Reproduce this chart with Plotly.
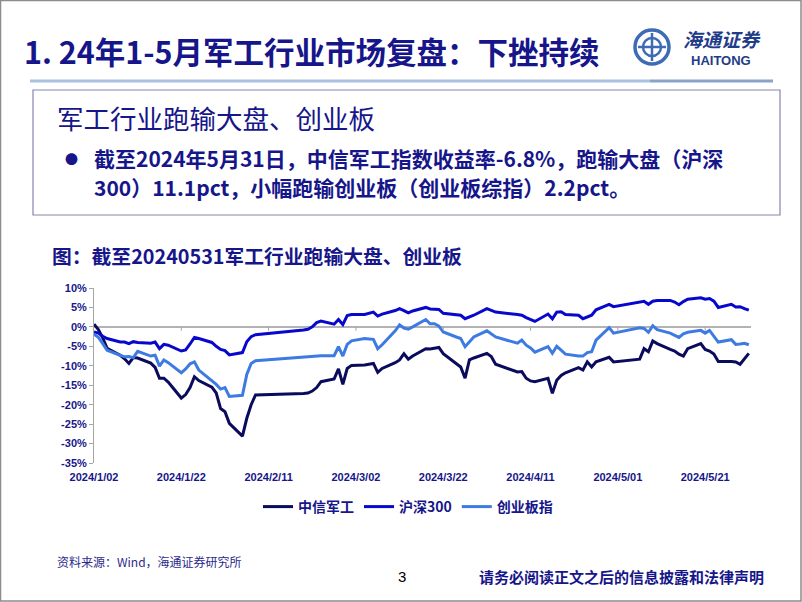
import plotly.graph_objects as go

# ---------------- data ----------------
dates = [
    "2024-01-02", "2024-01-03", "2024-01-04", "2024-01-05", "2024-01-08", "2024-01-09", "2024-01-10",
    "2024-01-11", "2024-01-12", "2024-01-15", "2024-01-16", "2024-01-17", "2024-01-18", "2024-01-19",
    "2024-01-22", "2024-01-23", "2024-01-24", "2024-01-25", "2024-01-26", "2024-01-29", "2024-01-30",
    "2024-01-31",
    "2024-02-01", "2024-02-02", "2024-02-05", "2024-02-06", "2024-02-07", "2024-02-08", "2024-02-19",
    "2024-02-20", "2024-02-21", "2024-02-22", "2024-02-23", "2024-02-26", "2024-02-27", "2024-02-28",
    "2024-02-29",
    "2024-03-01", "2024-03-04", "2024-03-05", "2024-03-06", "2024-03-07", "2024-03-08", "2024-03-11",
    "2024-03-12", "2024-03-13", "2024-03-14", "2024-03-15", "2024-03-18", "2024-03-19", "2024-03-20",
    "2024-03-21", "2024-03-22", "2024-03-25", "2024-03-26", "2024-03-27", "2024-03-28", "2024-03-29",
    "2024-04-01", "2024-04-02", "2024-04-03", "2024-04-08", "2024-04-09", "2024-04-10", "2024-04-11",
    "2024-04-12", "2024-04-15", "2024-04-16", "2024-04-17", "2024-04-18", "2024-04-19", "2024-04-22",
    "2024-04-23", "2024-04-24", "2024-04-25", "2024-04-26", "2024-04-29", "2024-04-30",
    "2024-05-06", "2024-05-07", "2024-05-08", "2024-05-09", "2024-05-10", "2024-05-13", "2024-05-14",
    "2024-05-15", "2024-05-16", "2024-05-17", "2024-05-20", "2024-05-21", "2024-05-22", "2024-05-23",
    "2024-05-24", "2024-05-27", "2024-05-28", "2024-05-29", "2024-05-30", "2024-05-31",
]

# 中信军工 (%)
citic_defense = [
    0.7, -0.7, -2.8, -5.5, -7.3, -8.2, -9.4, -7.9, -8.0, -9.3, -10.4, -13.2, -13.2, -14.2,
    -18.3, -17.4, -15.6, -12.8, -13.8, -15.5, -17.0, -21.0,
    -21.8, -24.8, -28.1, -23.5, -20.0, -17.5, -17.1, -17.0, -16.5, -15.6, -14.1, -13.4, -10.8, -14.8, -10.7,
    -9.9, -9.8, -9.6, -9.4, -11.7, -10.7, -9.2, -8.5, -6.9, -8.3, -7.5, -5.6, -5.7, -5.5, -5.3, -6.9,
    -9.4, -10.3, -13.2, -8.5, -8.0,
    -6.8, -7.6, -9.6, -11.6, -11.5, -13.2, -13.9, -14.1, -13.2, -17.1, -13.7, -12.5, -11.8, -10.5,
    -11.1, -9.0, -10.3, -9.0, -7.8, -9.0,
    -8.3, -5.6, -6.4, -3.6, -4.3, -5.8, -6.2, -7.0, -7.5, -5.6, -4.3, -5.8, -6.2, -7.0, -8.9, -8.9,
    -9.0, -9.6, -8.3, -6.8,
]

# 沪深300 (%)
csi300 = [
    -1.3, -1.6, -2.4, -3.0, -3.9, -3.9, -4.3, -3.8, -4.0, -4.2, -3.9, -5.6, -4.5, -4.7,
    -6.2, -5.9, -4.4, -2.7, -3.0, -4.0, -5.0, -5.8,
    -6.1, -7.2, -6.6, -3.8, -2.5, -2.0, -0.8, -0.6, 0.0, 1.1, 1.5, 0.7, 1.9, 0.6, 2.9,
    3.2, 3.2, 3.5, 3.8, 2.8, 3.3, 4.2, 4.7, 4.2, 3.6, 4.1, 5.0, 4.6, 4.6, 4.5, 3.5, 3.2, 3.0, 2.1, 2.5, 3.0,
    4.7, 4.3, 3.8, 3.2, 3.0, 2.4, 2.0, 1.4, 3.3, 2.1, 3.8, 3.9, 3.2, 3.0, 2.1, 2.6, 3.0, 4.4, 5.8, 5.2,
    6.5, 6.6, 5.8, 6.6, 6.8, 6.8, 6.4, 5.7, 6.5, 7.1, 7.5, 7.1, 7.3, 6.6, 5.0, 5.8, 5.1, 5.2, 4.7, 4.3,
]

# 创业板指 (%)
chinext = [
    -1.9, -2.7, -4.3, -6.0, -7.3, -7.7, -7.6, -7.9, -6.3, -7.5, -7.3, -10.1, -8.5, -9.2,
    -11.8, -10.8, -9.5, -9.0, -11.1, -13.8, -14.8, -16.0,
    -15.6, -17.9, -17.6, -12.2, -9.4, -8.7, -7.8, -7.6, -7.6, -7.5, -7.4, -7.4, -5.1, -7.5, -4.5,
    -3.6, -3.0, -3.1, -3.2, -5.6, -4.6, -1.0, 0.5, -0.3, -0.6, 0.0, 1.9, 0.8, 0.8, 0.2, -1.3,
    -2.6, -3.0, -5.1, -3.8, -2.6,
    -1.0, -1.8, -2.6, -4.2, -3.4, -4.7, -5.4, -6.5, -5.1, -6.8, -5.0, -6.0, -7.0, -7.5, -7.5, -6.6,
    -6.4, -3.4, -0.2, -1.6,
    -0.2, -0.4, -1.4, 0.3, -0.7, -1.6, -2.1, -2.7, -1.8, -1.4, -0.9, -1.6, -0.9, -2.4, -3.9, -3.3,
    -4.5, -4.4, -4.2, -4.6,
]

series_names = ["中信军工", "沪深300", "创业板指"]
y_ticks = [10, 5, 0, -5, -10, -15, -20, -25, -30, -35]
x_tick_dates = ["2024-01-02", "2024-01-22", "2024-02-11", "2024-03-02",
                "2024-03-22", "2024-04-11", "2024-05-01", "2024-05-21"]
x_tick_labels = ["2024/1/02", "2024/1/22", "2024/2/11", "2024/3/02",
                 "2024/3/22", "2024/4/11", "2024/5/01", "2024/5/21"]

# ---------------- layout helpers ----------------
W, H = 802, 602
L, R, T, B = 94, 751, 288, 463


def px(x):
    return (x - L) / (R - L)


def py(y):
    return (B - y) / (B - T)


NAVY = "#16168A"
CJK = "Noto Sans CJK SC"
LAT = "Liberation Sans"
colors = ["#0B0B5E", "#0808CC", "#3D7BE3"]

fig = go.Figure()
for name, vals, c in zip(series_names, [citic_defense, csi300, chinext], colors):
    fig.add_trace(go.Scatter(x=dates, y=vals, name=name, mode="lines",
                             line=dict(color=c, width=3)))

shapes = []
# small tick marks on the horizontal (0%) axis
for d in x_tick_dates[1:]:
    shapes.append(dict(type="line", xref="x", yref="y", x0=d, x1=d, y0=0, y1=-1.0,
                       line=dict(color="#A6A6A6", width=1)))

# slide frame
shapes.append(dict(type="rect", xref="paper", yref="paper", x0=px(0.5), x1=px(801), y0=py(0.5), y1=py(601),
                   line=dict(color="#8C8C8C", width=1.5), layer="below"))
# title underline
shapes.append(dict(type="line", xref="paper", yref="paper", x0=px(30), x1=px(650), y0=py(81), y1=py(81),
                   line=dict(color="#A9C2E0", width=3)))
shapes.append(dict(type="line", xref="paper", yref="paper", x0=px(650), x1=px(773), y0=py(81), y1=py(81),
                   line=dict(color="#8AA3C8", width=3)))
# text box
shapes.append(dict(type="rect", xref="paper", yref="paper", x0=px(33), x1=px(780), y0=py(90), y1=py(215),
                   line=dict(color="#8585AD", width=1.2)))
# logo emblem
shapes.append(dict(type="circle", xref="paper", yref="paper", x0=px(635), x1=px(669), y0=py(30), y1=py(64),
                   line=dict(color="#3D6CB5", width=3.5)))
shapes.append(dict(type="circle", xref="paper", yref="paper", x0=px(643), x1=px(661), y0=py(38), y1=py(56),
                   line=dict(color="#3D6CB5", width=2.5)))
shapes.append(dict(type="line", xref="paper", yref="paper", x0=px(652), x1=px(652), y0=py(33), y1=py(61),
                   line=dict(color="#3D6CB5", width=2.5)))
shapes.append(dict(type="line", xref="paper", yref="paper", x0=px(638), x1=px(666), y0=py(47), y1=py(47),
                   line=dict(color="#3D6CB5", width=2.5)))


def ann(text, x, y, size, color=NAVY, bold=False, xanchor="left", family=CJK, italic=False):
    return dict(text=text, x=px(x), y=py(y), xref="paper", yref="paper", showarrow=False,
                xanchor=xanchor, yanchor="middle",
                font=dict(family=family, size=size, color=color, weight="bold" if bold else "normal",
                          style="italic" if italic else "normal"))


annotations = [
    ann("1. 24年1-5月军工行业市场复盘：下挫持续", 22, 51, 30.5, bold=True),
    ann("海通证券", 722, 38, 19, color="#1F3C88", bold=True, xanchor="center", italic=True),
    ann("HAITONG", 721, 60, 13, color="#1F3C88", bold=True, xanchor="center", family=LAT),
    ann("军工行业跑输大盘、创业板", 55, 117, 26.5),
    ann("●", 63, 158, 13),
    ann("截至2024年5月31日，中信军工指数收益率-6.8%，跑输大盘（沪深", 92, 158, 21, bold=True),
    ann("300）11.1pct，小幅跑输创业板（创业板综指）2.2pct。", 92, 187, 21, bold=True),
    ann("图：截至20240531军工行业跑输大盘、创业板", 50, 255, 19.8, bold=True),
    ann("资料来源：Wind，海通证券研究所", 55, 561, 12, color="#2A2A8A"),
    ann("3", 402, 576, 15, color="#000000", xanchor="center", family=LAT),
    ann("请务必阅读正文之后的信息披露和法律声明", 766, 576, 15, bold=True, xanchor="right"),
]

fig.update_layout(
    width=W, height=H, autosize=False,
    margin=dict(l=L, r=W - R, t=T, b=H - B, pad=0),
    paper_bgcolor="white", plot_bgcolor="white",
    showlegend=True,
    legend=dict(orientation="h", x=px(408), xanchor="center", y=py(507), yanchor="middle",
                font=dict(family=CJK, size=14, color=NAVY, weight="bold"),
                itemwidth=30, bgcolor="rgba(0,0,0,0)"),
    xaxis=dict(type="date", range=["2024-01-02", "2024-05-31 12:00"],
               tickvals=x_tick_dates, ticktext=x_tick_labels,
               showgrid=False, showline=False, zeroline=False, ticks="",
               tickfont=dict(family=LAT, size=11, color=NAVY, weight="bold"),
               ticklabelstandoff=6),
    yaxis=dict(range=[-35, 10], tickvals=y_ticks, ticktext=[f"{v}%" for v in y_ticks],
               showgrid=False, showline=True, linecolor="#A6A6A6", linewidth=1,
               ticks="outside", ticklen=4, tickcolor="#A6A6A6",
               zeroline=True, zerolinecolor="#B3B3B3", zerolinewidth=2,
               tickfont=dict(family=LAT, size=11, color=NAVY, weight="bold")),
    shapes=shapes,
    annotations=annotations,
)

fig.write_html("out.html")
